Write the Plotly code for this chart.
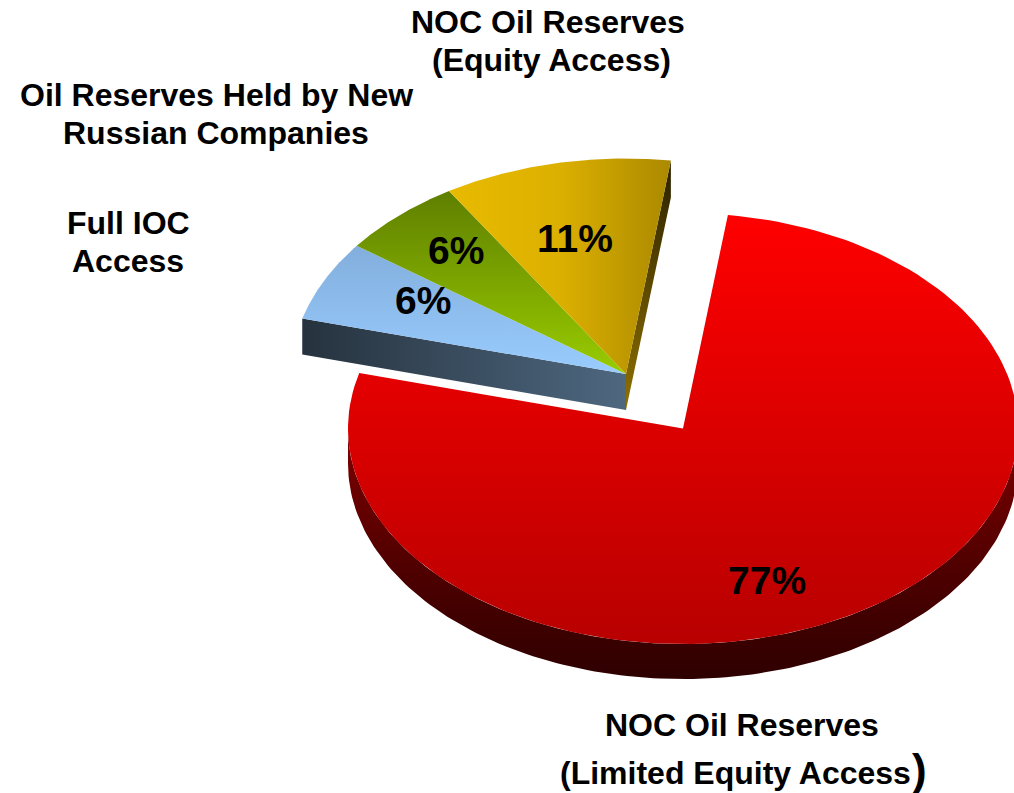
import numpy as np
import plotly.graph_objects as go

# --- chart data ---
categories = ["NOC Oil Reserves (Limited Equity Access)", "Full IOC Access",
              "Oil Reserves Held by New Russian Companies", "NOC Oil Reserves (Equity Access)"]
values = [77, 6, 6, 11]
exploded = [False, True, True, True]

# --- styling (vertical gradients run bottom-to-top on screen) ---
top_scales = [
    ("vertical", [[0, "#b80000"], [1, "#ff0000"]]),
    ("vertical", [[0, "#99ccff"], [1, "#82aedc"]]),
    ("vertical", [[0, "#99cc00"], [1, "#5f7f00"]]),
    ("horizontal", [[0, "#e8ba00"], [0.5, "#dcb000"], [1, "#ab8900"]]),
]
FONT = "Liberation Sans, Arial, sans-serif"
START_ANGLE = 7.7
RX, RY, DEPTH = 335, 215.5, 35
MAIN_APEX = (683, 428.5)
EXPLODED_APEX = (626, 374)
pct_positions = [(767, 580), (423, 300), (456, 250), (575, 238)]


def arc(apex, a0, a1, n=160):
    t = np.radians(np.linspace(a0, a1, n))
    return apex[0] + RX * np.sin(t), apex[1] - RY * np.cos(t)


def poly(x, y, kind, scale, name):
    return go.Scatter(x=list(x) + [x[0]], y=list(y) + [y[0]], mode="lines", fill="toself",
                      line=dict(width=0), fillgradient=dict(type=kind, colorscale=scale),
                      name=name, hoverinfo="name", showlegend=False)


fig = go.Figure()
angles = START_ANGLE + np.concatenate([[0], np.cumsum(values)]) * 3.6

# red side wall (visible along the front of the ellipse)
ax, ay = arc(MAIN_APEX, 90, 270)
fig.add_trace(poly(np.r_[ax, ax[::-1]], np.r_[ay, ay[::-1] + DEPTH], "vertical",
                   [[0, "#2e0000"], [0.45, "#500000"], [1, "#800000"]], categories[0]))

# side walls of the exploded group
ex_a0, ex_a1 = angles[1], angles[4]
lx, ly = arc(EXPLODED_APEX, ex_a0, ex_a0, 1)
fig.add_trace(poly([lx[0], EXPLODED_APEX[0], EXPLODED_APEX[0], lx[0]],
                   [ly[0], EXPLODED_APEX[1], EXPLODED_APEX[1] + DEPTH + 1, ly[0] + DEPTH + 1],
                   "horizontal", [[0, "#26323e"], [1, "#4e6880"]], categories[1]))
rx_, ry_ = arc(EXPLODED_APEX, ex_a1, ex_a1, 1)
fig.add_trace(poly([EXPLODED_APEX[0], rx_[0], rx_[0], EXPLODED_APEX[0]],
                   [EXPLODED_APEX[1], ry_[0], ry_[0] + DEPTH + 2, EXPLODED_APEX[1] + DEPTH + 1],
                   "vertical", [[0, "#8f7000"], [1, "#2a2000"]], categories[3]))

# top faces
for i, cat in enumerate(categories):
    apex = EXPLODED_APEX if exploded[i] else MAIN_APEX
    x, y = arc(apex, angles[i], angles[i + 1])
    kind, scale = top_scales[i]
    fig.add_trace(poly(np.r_[apex[0], x], np.r_[apex[1], y], kind, scale, cat))

annotations = []


def label(text, x, y, size=32):
    annotations.append(dict(x=x, y=y, xref="x", yref="y", text=text, showarrow=False,
                            xanchor="center", yanchor="middle",
                            font=dict(family=FONT, size=size, color="black")))


for v, (px, py) in zip(values, pct_positions):
    label(f"<b>{v}%</b>", px, py, 39)

label("<b>NOC Oil Reserves</b>", 548, 22)
label("<b>(Equity Access)</b>", 551, 60)
label("<b>Oil Reserves Held by New</b>", 216, 95)
label("<b>Russian Companies</b>", 216, 133)
label("<b>Full IOC</b>", 128, 223)
label("<b>Access</b>", 128, 261)
label("<b>NOC Oil Reserves</b>", 742, 725)
label("<b>(Limited Equity Access</b>", 735, 773)
label("<b>)</b>", 919, 769, 44)

fig.update_layout(
    width=1014, height=793, autosize=False,
    margin=dict(l=0, r=0, t=0, b=0),
    paper_bgcolor="white", plot_bgcolor="white",
    showlegend=False, annotations=annotations,
    xaxis=dict(range=[0, 1014], visible=False, fixedrange=True),
    yaxis=dict(range=[793, 0], visible=False, fixedrange=True),
)
fig.write_html("out.html", config=dict(displayModeBar=False),
               post_script="document.body.style.margin='0';document.body.style.overflow='hidden';")
